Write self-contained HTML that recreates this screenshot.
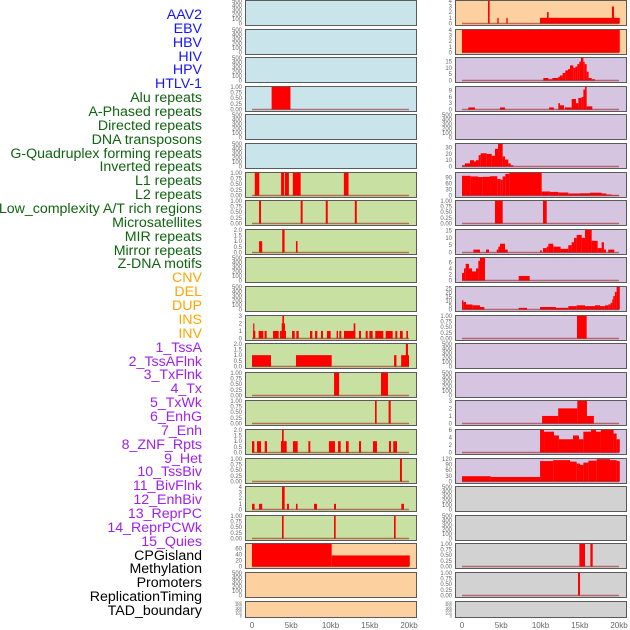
<!DOCTYPE html>
<html><head><meta charset="utf-8">
<style>
html,body{margin:0;padding:0;background:#fff;}
#wrap{position:relative;width:630px;height:630px;overflow:hidden;font-family:"Liberation Sans",sans-serif;}
.lab{position:absolute;right:428px;font-size:14.2px;line-height:14px;white-space:nowrap;}
svg{position:absolute;left:0;top:0;}
</style></head>
<body>
<div id="wrap">
<div id="labels"></div>
<svg id="chart" width="630" height="630"></svg>
</div>
<script>
const trackNames = ["AAV2","EBV","HBV","HIV","HPV","HTLV-1","Alu repeats","A-Phased repeats","Directed repeats","DNA transposons","G-Quadruplex forming repeats","Inverted repeats","L1 repeats","L2 repeats","Low_complexity A/T rich regions","Microsatellites","MIR repeats","Mirror repeats","Z-DNA motifs","CNV","DEL","DUP","INS","INV","1_TssA","2_TssAFlnk","3_TxFlnk","4_Tx","5_TxWk","6_EnhG","7_Enh","8_ZNF_Rpts","9_Het","10_TssBiv","11_BivFlnk","12_EnhBiv","13_ReprPC","14_ReprPCWk","15_Quies","CPGisland","Methylation","Promoters","ReplicationTiming","TAD_boundary"];
const trackColors = ["#1414ff","#1414ff","#1414ff","#1414ff","#1414ff","#1414ff","#106410","#106410","#106410","#106410","#106410","#106410","#106410","#106410","#106410","#106410","#106410","#106410","#106410","#ffa500","#ffa500","#ffa500","#ffa500","#ffa500","#a020f0","#a020f0","#a020f0","#a020f0","#a020f0","#a020f0","#a020f0","#a020f0","#a020f0","#a020f0","#a020f0","#a020f0","#a020f0","#a020f0","#a020f0","#000","#000","#000","#000","#000"];
const xTickKb = [0,5,10,15,20];
const xTickLabels = ["0","5kb","10kb","15kb","20kb"];
const emptyTicks = ["0","100","200","300","400","500"];
const unitTicks = ["0.00","0.25","0.50","0.75","1.00"];
// segments: [startKb, endKb, value]
const segL3 = [[2.5,4.9,1]];
const segL6 = [[0.35,0.93,1],[3.7,4.1,1],[4.2,4.7,1],[5.2,6.2,1],[11.7,12.3,1]];
const segL7 = [[0.9,1.15,1],[6.2,6.45,1],[9.4,9.65,1],[13.1,13.35,1]];
const segL8 = [[0.9,1.3,1],[3.85,4.15,2],[5.6,5.8,1]];
const segL11 = [[0.13,0.42,1],[0.15,0.3,2],[0.85,1.44,1],[1.6,1.87,1],[2.68,3.4,1],[3.57,4.33,1],[3.78,4.2,2],[3.87,4.08,3],[5.1,5.44,1],[5.65,5.95,1],[7.39,7.69,1],[8.03,8.32,1],[8.79,9.04,1],[9.55,10.02,1],[10.78,10.96,1],[11.13,11.38,1],[11.72,13.16,1],[12.95,13.16,2],[13.63,13.89,1],[14.48,14.74,1],[14.95,15.37,1],[15.7,16.73,1],[17.03,17.92,1],[18.26,18.51,1],[18.85,19.2,1],[19.66,19.87,1]];
const segL12 = [[0,2.42,1],[5.6,10.15,1],[18.1,18.4,1],[19.0,20.0,1],[19.6,19.87,2]];
const segL13 = [[10.45,11.1,1],[16.43,17.32,1]];
const segL14 = [[15.67,15.88,1],[17.4,17.67,1]];
const segL15 = [[0,0.3,1],[0.64,1.15,1],[1.62,1.91,1],[3.69,4.42,1],[3.82,4.04,2],[5.22,5.82,1],[7.18,7.43,1],[9.8,10.57,1],[10.96,11.3,1],[11.97,12.31,1],[13.63,13.89,1],[15.41,15.92,1],[17.45,17.71,1],[17.99,18.47,1]];
const segL16 = [[18.85,19.1,1]];
const segL17 = [[0,0.33,1],[0.9,1.3,1],[3.82,4.16,4],[4.46,4.71,1],[5.6,5.8,1],[7.9,8.28,1],[10.45,10.7,1],[19.02,19.36,1]];
const segL18 = [[3.82,4.03,1],[10.45,10.66,1],[18.09,18.3,1]];
const segL19 = [[0,10.15,76],[10.15,20.1,37]];
const segR0 = [[3.31,3.52,4],[4.5,4.67,1],[5.65,5.82,1],[9.94,20.1,1],[10.83,11.04,2],[19.1,19.36,3]];
const segR1 = [[0,20.1,4]];
const segR2 = [[10.36,11.0,2],[11.0,11.5,1],[11.5,12.27,2],[12.27,12.48,3],[12.48,12.82,4],[12.82,13.16,6],[13.16,13.5,8],[13.5,13.76,9],[13.76,14.18,12],[14.18,14.44,10],[14.44,14.69,11],[14.69,14.95,13],[14.95,15.16,15],[15.16,15.46,18],[15.46,15.63,15],[15.63,15.88,13],[15.88,16.13,7],[16.13,16.52,2],[16.52,16.94,1]];
const segR3 = [[0.8,1.65,1],[4.84,5.48,1],[11.1,11.7,1],[12.27,12.48,3],[12.48,12.99,2],[13.1,13.97,1],[13.97,14.52,5],[14.52,14.82,3],[14.82,15.25,5.5],[15.25,15.46,6],[15.46,15.67,9.5],[15.67,15.88,10.8],[15.88,16.6,1.5]];
const segR5 = [[0,0.38,2],[0.38,1.02,5],[1.02,1.53,10],[1.53,1.78,8],[1.78,2.12,10],[2.12,2.38,18],[2.38,3.14,21],[3.14,3.78,20],[3.78,4.2,17],[4.2,4.59,28],[4.59,5.18,36],[5.18,5.48,16],[5.48,5.9,11],[5.9,6.2,5],[6.2,6.54,2]];
const segR6 = [[0,1.1,98],[1.1,2.04,95],[2.04,2.63,92],[2.63,3.57,93],[3.57,4.5,96],[4.5,4.93,82],[4.93,5.18,78],[5.18,5.52,95],[5.52,6.03,108],[6.03,10.15,113],[10.15,11.2,20],[11.2,12.27,18],[12.27,13.54,15],[13.54,15.03,10],[15.03,16.3,11],[16.3,17.79,14],[17.79,18.42,10],[18.42,19.06,5],[19.06,20.04,2]];
const segR7 = [[4.2,5.18,1],[10.32,10.79,1]];
const segR8 = [[1.45,2.29,2],[3.06,3.44,2],[4.42,4.63,2],[4.63,4.84,4],[4.84,5.48,6],[5.48,5.82,2],[9.94,10.15,1.5],[10.32,10.79,3],[10.79,11.0,4],[11.0,11.63,6],[11.63,12.56,4],[12.56,13.54,2.5],[13.54,13.97,5],[13.97,14.27,7],[14.27,14.61,10],[14.61,15.25,12],[15.25,15.67,10],[15.67,16.52,15.5],[16.52,17.28,8],[17.28,17.79,3],[17.79,18.08,7],[18.08,18.34,2],[18.63,19.4,2]];
const segR9 = [[0,0.25,2.5],[0.25,0.47,4],[0.47,0.89,5.5],[0.89,1.27,4],[1.27,1.78,3],[1.78,2.08,4],[2.08,2.29,6.5],[2.29,2.93,7.5],[7.22,8.62,1.5]];
const segR10 = [[0,0.17,11],[0.17,0.51,9],[0.51,1.32,6],[1.32,2.29,5],[2.29,2.85,3],[7.22,8.28,2],[9.94,11.97,3],[11.97,13.54,2],[13.54,14.61,4],[14.61,15.67,5],[15.67,16.94,4],[16.94,17.58,5],[17.58,18.2,4],[18.2,18.63,5],[18.63,18.93,6],[18.93,19.14,8],[19.14,19.27,12],[19.27,19.48,16],[19.48,19.7,21],[19.7,20.1,27]];
const segR11 = [[14.65,15.88,1]];
const segR14 = [[10.2,12.25,1],[12.25,14.69,2],[14.69,15.92,3],[15.92,16.8,1]];
const segR15 = [[9.94,10.45,6],[10.45,11.72,5.5],[11.72,12.35,4.5],[12.35,14.14,3.5],[14.14,14.9,4.5],[14.9,15.46,3.5],[15.46,16.43,5.5],[16.43,17.07,6],[17.07,17.7,5.5],[17.7,19.31,6],[19.31,19.7,5],[19.7,20.1,3.5]];
const segR16 = [[0,3.65,28],[3.65,9.94,24],[9.94,11.63,108],[11.63,13.76,113],[13.76,14.61,105],[14.61,15.03,95],[15.03,15.46,88],[15.46,16.1,100],[16.1,17.16,110],[17.16,18.85,118],[18.85,19.7,113],[19.7,20.1,108]];
const segR19 = [[14.95,15.67,1],[16.35,16.65,1]];
const segR20 = [[14.78,15.03,1]];

const BG = {blue:"#c9e4eb",green:"#c8e1a3",orange:"#fdd09f",purple:"#d6c5e1",gray:"#d2d2d2"};
const panels = [
 ["L",0,"blue",null,500,emptyTicks],["L",1,"blue",null,500,emptyTicks],["L",2,"blue",null,500,emptyTicks],
 ["L",3,"blue",segL3,1,unitTicks],["L",4,"blue",null,500,emptyTicks],["L",5,"blue",null,500,emptyTicks],
 ["L",6,"green",segL6,1,unitTicks],["L",7,"green",segL7,1,unitTicks],["L",8,"green",segL8,2,["0.0","0.5","1.0","1.5","2.0"]],
 ["L",9,"green",null,500,emptyTicks],["L",10,"green",null,500,emptyTicks],["L",11,"green",segL11,3,["0","1","2","3"]],
 ["L",12,"green",segL12,2,["0.0","0.5","1.0","1.5","2.0"]],["L",13,"green",segL13,1,unitTicks],["L",14,"green",segL14,1,unitTicks],
 ["L",15,"green",segL15,2,["0.0","0.5","1.0","1.5","2.0"]],["L",16,"green",segL16,1,unitTicks],["L",17,"green",segL17,4,["0","1","2","3","4"]],
 ["L",18,"green",segL18,1,unitTicks],["L",19,"orange",segL19,76,["0","20","40","60"]],["L",20,"orange",null,500,emptyTicks],["L",21,"orange",null,500,emptyTicks],
 ["R",0,"orange",segR0,4,["0","1","2","3","4"]],["R",1,"orange",segR1,4,["0","1","2","3","4"]],
 ["R",2,"purple",segR2,18,["0","5","10","15"]],["R",3,"purple",segR3,10.8,["0","3","6","9"]],["R",4,"purple",null,500,emptyTicks],
 ["R",5,"purple",segR5,36,["0","10","20","30"]],["R",6,"purple",segR6,113,["0","30","60","90"]],["R",7,"purple",segR7,1,unitTicks],
 ["R",8,"purple",segR8,15.5,["0","5","10","15"]],["R",9,"purple",segR9,7.5,["0","2","4","6"]],["R",10,"purple",segR10,27,["0","5","10","15","20","25"]],
 ["R",11,"purple",segR11,1,unitTicks],["R",12,"purple",null,500,emptyTicks],["R",13,"purple",null,500,emptyTicks],
 ["R",14,"purple",segR14,3,["0","1","2","3"]],["R",15,"purple",segR15,6,["0","2","4","6"]],["R",16,"purple",segR16,120,["0","30","60","90","120"]],
 ["R",17,"gray",null,500,emptyTicks],["R",18,"gray",null,500,emptyTicks],["R",19,"gray",segR19,1,unitTicks],["R",20,"gray",segR20,1,unitTicks],["R",21,"gray",null,500,emptyTicks]
];

const NS="http://www.w3.org/2000/svg";
const svg=document.getElementById('chart');
const PANEL_X={L:245,R:455}, PANEL_W=171, ZERO_X={L:252,R:462}, PX_PER_KB=7.85;
function xScale(col,kb){return ZERO_X[col]+kb*PX_PER_KB;}
function mk(tag,attrs){const e=document.createElementNS(NS,tag);for(const k in attrs)e.setAttribute(k,attrs[k]);return e;}

const labDiv=document.getElementById('labels');
trackNames.forEach((n,i)=>{
  const d=document.createElement('div');
  d.className='lab';
  d.style.top=(8+i*13.86)+'px';
  d.style.color=trackColors[i];
  d.textContent=n;
  
  
  labDiv.appendChild(d);
});

panels.forEach(p=>{
  const [col,row,bg,segs,ymax,ticks]=p;
  const top=Math.round(row*28.6);
  const h=row===21?16:25;
  const bottom=top+h;
  const y0=bottom-1.5, yTop=top+0.8;
  const yScale=v=>y0-(v/ymax)*(y0-yTop);
  const g=mk('g',{});
  
  
  const r=mk('rect',{x:PANEL_X[col]+0.5,y:top+0.5,width:PANEL_W,height:h,fill:BG[bg],stroke:'#5a5a5a','stroke-width':1});
  
  
  g.appendChild(r);
  if(segs){
    segs.forEach(s=>{
      const x1=xScale(col,s[0]), x2=xScale(col,s[1]);
      const yv=yScale(s[2]);
      const b=mk('rect',{x:x1,y:yv,width:Math.max(1.2,x2-x1),height:y0-yv,fill:'#ff0000'});
      
      
      g.appendChild(b);
    });
    const bl=mk('line',{x1:xScale(col,0),x2:xScale(col,20),y1:y0,y2:y0,stroke:'rgba(150,20,20,0.55)','stroke-width':1.5});
    
    
    g.appendChild(bl);
  }
  ticks.forEach(t=>{
    const v=parseFloat(t);
    const tx=mk('text',{x:PANEL_X[col]-3,y:yScale(v)+2,'text-anchor':'end','font-size':row===21?4:6,fill:'#666','font-family':'Liberation Sans, sans-serif'});
    tx.textContent=t;
    
    
    g.appendChild(tx);
  });
  svg.appendChild(g);
});

['L','R'].forEach(col=>{
  xTickKb.forEach((kb,i)=>{
    const t=mk('text',{x:xScale(col,kb),y:628,'text-anchor':'middle','font-size':8,fill:'#666','font-family':'Liberation Sans, sans-serif'});
    t.textContent=xTickLabels[i];
    
    
    svg.appendChild(t);
  });
});
</script>
</body></html>
